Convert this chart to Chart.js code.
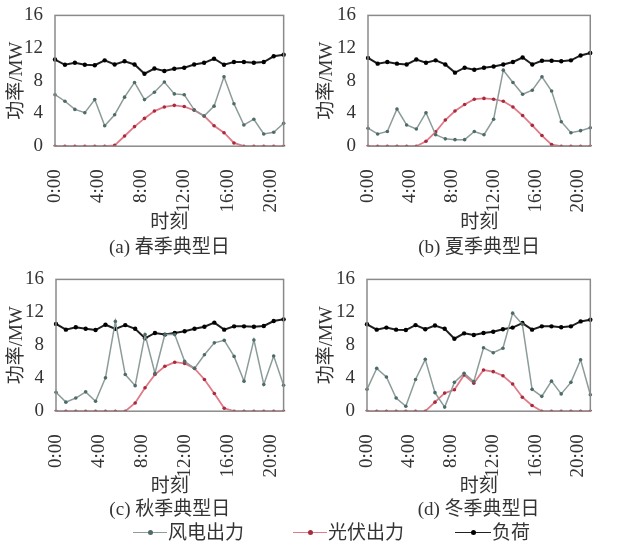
<!DOCTYPE html>
<html>
<head>
<meta charset="utf-8">
<script src="https://cdn.jsdelivr.net/npm/chart.js@4.4.1/dist/chart.umd.min.js"></script>
<style>
  body { margin: 0; background: #fff; }
  #wrap { position: relative; width: 617px; height: 547px; overflow: hidden; background: #fff; }
  canvas { position: absolute; }
  .legend { position: absolute; top: 521px; height: 24px; font: 19px 'Liberation Serif', 'Noto Sans CJK SC', serif; color: #333; line-height: 24px; white-space: nowrap; }
  .legend i { position: absolute; top: 11px; height: 0; border-top: 1.5px solid; }
  .legend b { position: absolute; top: 9px; width: 5px; height: 5px; border-radius: 50%; }
</style>
</head>
<body>
<div id="wrap">
  <canvas id="cA" width="310" height="261" style="left:0;top:0"></canvas>
  <canvas id="cB" width="307" height="261" style="left:310px;top:0"></canvas>
  <canvas id="cC" width="310" height="259" style="left:0;top:264px"></canvas>
  <canvas id="cD" width="307" height="259" style="left:310px;top:264px"></canvas>

  <div class="legend" style="left:133px;width:120px">
    <i style="left:0;width:34px;border-color:#8c9c9a"></i><b style="left:15px;background:#4d6b68"></b>
    <span style="position:absolute;left:35px">风电出力</span>
  </div>
  <div class="legend" style="left:293px;width:125px">
    <i style="left:0;width:34px;border-color:#e07a88"></i><b style="left:15px;background:#a82a3c"></b>
    <span style="position:absolute;left:35px">光伏出力</span>
  </div>
  <div class="legend" style="left:455px;width:90px">
    <i style="left:0;width:36px;border-color:#222"></i><b style="left:16px;background:#000"></b>
    <span style="position:absolute;left:37px">负荷</span>
  </div>
</div>

<script>
// 24 个采样时刻
const hours = ['0:00','1:00','2:00','3:00','4:00','5:00','6:00','7:00','8:00','9:00','10:00','11:00',
               '12:00','13:00','14:00','15:00','16:00','17:00','18:00','19:00','20:00','21:00','22:00','23:00'];
const tickHours = [0, 4, 8, 12, 16, 20];
const tickLabels = ['0:00', '4:00', '8:00', '12:00', '16:00', '20:00'];
const yTicks = [0, 4, 8, 12, 16];

// (a) 春季
const windA = [6.3,5.5,4.5,4.1,5.7,2.5,3.85,6.0,7.8,5.7,6.6,7.85,6.4,6.3,4.45,3.7,4.9,8.5,5.2,2.6,3.3,1.5,1.7,2.8];
const pvA   = [0,0,0,0,0,0,0.1,1.25,2.4,3.4,4.3,4.8,5.0,4.85,4.4,3.7,2.5,1.65,0.4,0,0,0,0,0];
const loadA = [10.6,9.96,10.2,9.96,9.9,10.5,10.0,10.4,10.0,8.87,9.5,9.2,9.47,9.6,10.0,10.2,10.7,9.96,10.3,10.3,10.2,10.3,11.0,11.2];

// (b) 夏季
const windB = [2.2,1.5,1.8,4.55,2.6,2.1,4.1,1.4,0.9,0.8,0.8,1.8,1.4,3.3,9.3,7.8,6.35,6.85,8.5,6.75,3.0,1.65,1.9,2.25];
const pvB   = [0,0,0,0,0,0,0.6,1.75,3.2,4.3,5.1,5.75,5.85,5.75,5.5,4.8,3.75,2.55,1.3,0.2,0,0,0,0];
const loadB = [10.8,10.1,10.3,10.1,10.0,10.6,10.2,10.5,10.0,9.0,9.6,9.35,9.6,9.75,10.0,10.3,10.85,10.0,10.45,10.45,10.4,10.5,11.1,11.4];

// (c) 秋季
const windC = [2.3,1.1,1.6,2.35,1.2,4.05,10.9,4.45,3.1,9.3,4.6,9.3,9.3,6.05,5.2,6.85,8.3,8.6,6.65,3.65,8.65,3.25,6.7,3.15];
const pvC   = [0,0,0,0,0,0,0,0,1.0,2.85,4.45,5.45,5.95,5.8,5.2,3.85,2.15,0.35,0,0,0,0,0,0];
const loadC = [10.6,9.9,10.2,10.0,9.85,10.5,10.0,10.45,10.0,8.85,9.5,9.3,9.5,9.7,10.0,10.25,10.75,9.9,10.3,10.3,10.25,10.35,10.95,11.15];

// (d) 冬季
const windD = [2.65,5.2,4.15,1.6,0.6,3.85,6.3,2.25,0.5,3.5,4.6,3.6,7.7,7.1,7.65,11.9,10.55,2.65,1.8,3.65,2.1,3.5,6.25,2.0];
const pvD   = [0,0,0,0,0,0,0,1.1,2.2,2.6,4.4,3.4,5.0,4.8,4.3,3.3,1.7,0.7,0,0,0,0,0,0];
const loadD = [10.55,9.9,10.15,9.9,9.85,10.45,9.95,10.4,10.0,8.8,9.45,9.25,9.5,9.65,9.95,10.15,10.7,9.9,10.3,10.3,10.2,10.3,10.9,11.1];

const fontFam = "'Liberation Serif', 'Noto Sans CJK SC', serif";
const textColor = '#333';

// 画坐标框
const boxPlugin = {
  id: 'box',
  afterDatasetsDraw(chart) {
    const a = chart.chartArea;
    const ctx = chart.ctx;
    ctx.save();
    ctx.strokeStyle = '#8a8a8a';
    ctx.lineWidth = 1.5;
    ctx.strokeRect(a.left, a.top, a.right - a.left, a.bottom - a.top);
    ctx.restore();
  }
};

function criarGrafico(id, wind, pv, load, legenda, yWidth, padRight, xHeight, xTitlePad) {
  const ctx = document.getElementById(id).getContext('2d');
  return new Chart(ctx, {
    type: 'line',
    data: {
      labels: hours,
      datasets: [
        { label: '风电出力', data: wind, borderColor: '#8c9c9a', borderWidth: 1.5,
          pointRadius: 1.8, pointBackgroundColor: '#4d6b68', pointBorderWidth: 0, tension: 0 },
        { label: '光伏出力', data: pv, borderColor: '#e07a88', borderWidth: 1.8,
          pointRadius: 1.8, pointBackgroundColor: '#a82a3c', pointBorderWidth: 0, tension: 0 },
        { label: '负荷', data: load, borderColor: '#1e1e1e', borderWidth: 2,
          pointRadius: 2.2, pointBackgroundColor: '#000', pointBorderWidth: 0, tension: 0 }
      ]
    },
    options: {
      responsive: false,
      animation: false,
      devicePixelRatio: 1,
      layout: { padding: { top: 13, right: padRight, left: 0, bottom: 0 } },
      plugins: {
        legend: { display: false },
        tooltip: { enabled: false },
        title: {
          display: true, position: 'bottom', fullSize: false, text: legenda,
          color: textColor, font: { family: fontFam, size: 19, weight: 'normal' },
          padding: { top: 0, bottom: 2 }
        }
      },
      scales: {
        x: { type: 'category', display: false, offset: false },
        xt: {
          type: 'linear', position: 'bottom', min: 0, max: 21.2,
          grid: { display: false }, border: { display: false },
          afterBuildTicks: s => { s.ticks = tickHours.map(v => ({ value: v })); },
          afterFit: s => { s.height = xHeight; },
          ticks: {
            minRotation: 90, maxRotation: 90, padding: 15, color: textColor,
            font: { family: fontFam, size: 19 },
            callback: v => tickLabels[tickHours.indexOf(v)]
          },
          title: { display: true, text: '时刻', color: textColor, padding: { top: 4, bottom: xTitlePad },
                   font: { family: fontFam, size: 19 } }
        },
        y: {
          min: 0, max: 16,
          grid: { display: false }, border: { display: false },
          afterBuildTicks: s => { s.ticks = yTicks.map(v => ({ value: v })); },
          afterFit: s => { s.width = yWidth; },
          ticks: { padding: 4, color: textColor, font: { family: fontFam, size: 19 } },
          title: { display: true, text: '功率/MW', color: textColor, padding: { top: 6, bottom: 4 },
                   font: { family: fontFam, size: 19 } }
        }
      }
    },
    plugins: [boxPlugin]
  });
}

criarGrafico('cA', windA, pvA, loadA, '(a) 春季典型日', 55, 7, 90, 2);
criarGrafico('cB', windB, pvB, loadB, '(b) 夏季典型日', 58, 2, 90, 2);
criarGrafico('cC', windC, pvC, loadC, '(c) 秋季典型日', 56, 7, 87, 0);
criarGrafico('cD', windD, pvD, loadD, '(d) 冬季典型日', 57, 2, 87, 0);
</script>
</body>
</html>
